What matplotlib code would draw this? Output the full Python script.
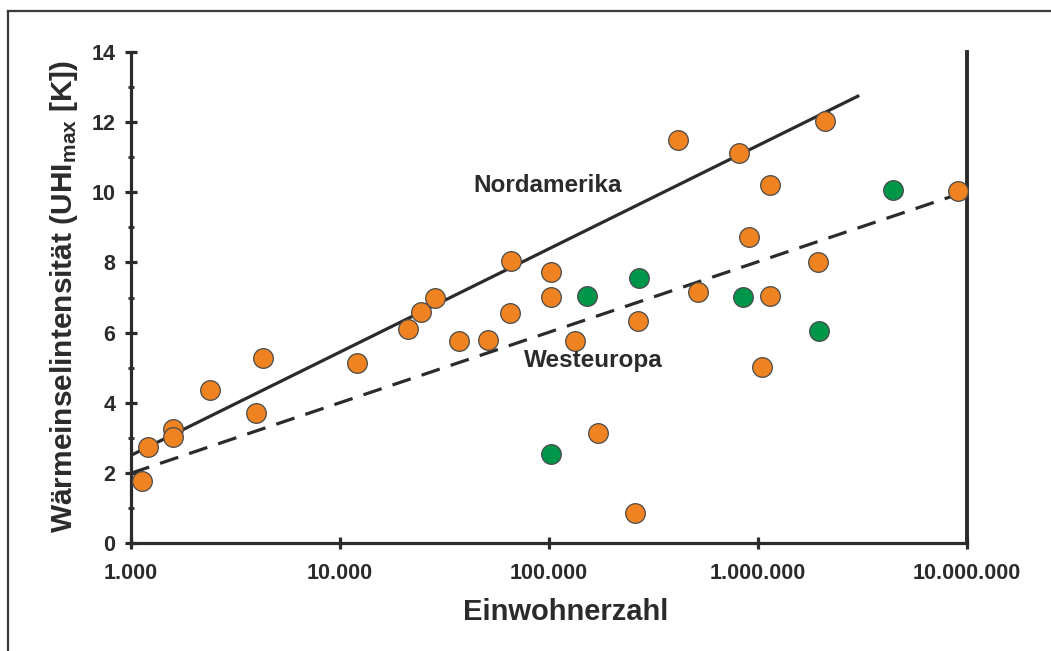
import matplotlib
matplotlib.use("Agg")
import matplotlib.pyplot as plt
from matplotlib.lines import Line2D
from matplotlib.ticker import FixedLocator, FixedFormatter, MultipleLocator, NullLocator

# data (population, UHI max in K)
orange_pop = [1130, 1210, 1590, 1590, 2390, 3960, 4280, 12060, 21150, 24400,
              28500, 37100, 51100, 65800, 65000, 102000, 102000, 133000, 171600,
              266600, 257800, 414000, 516000, 811000, 1141000, 906000, 1045000,
              1141000, 1936000, 2093000, 9060000]
orange_uhi = [1.77, 2.74, 3.25, 3.02, 4.36, 3.70, 5.27, 5.13, 6.10, 6.60,
              7.00, 5.76, 5.79, 8.04, 6.56, 7.73, 7.01, 5.76, 3.14,
              6.33, 0.86, 11.49, 7.16, 11.12, 10.21, 8.73, 5.02,
              7.04, 8.01, 12.03, 10.04]
green_pop = [102000, 152000, 269600, 848000, 1959000, 4425000]
green_uhi = [2.54, 7.04, 7.56, 7.01, 6.05, 10.07]

# regression lines
na_x = [1000, 3050000]
na_y = [2.50, 12.76]
eu_x = [1000, 10000000]
eu_y = [1.99, 10.03]

xticks = [1000, 10000, 100000, 1000000, 10000000]
xtick_labels = ["1.000", "10.000", "100.000", "1.000.000", "10.000.000"]

dark = "#2b2b2b"
plt.rcParams['font.family'] = ['Liberation Sans', 'DejaVu Sans']
plt.rcParams['font.weight'] = 'bold'
plt.rcParams['mathtext.default'] = 'regular'

fig = plt.figure(figsize=(10.51, 6.51), dpi=100)
ax = fig.add_axes([131/1051, 1-543/651, 836/1051, 491/651])

ax.plot(na_x, na_y, color=dark, lw=2.3, solid_capstyle='butt', zorder=2)
ax.plot(eu_x, eu_y, color=dark, lw=2.3, dashes=(6, 3.6), zorder=2)

ax.scatter(orange_pop, orange_uhi, s=200, c="#ef8322", edgecolors="#4a4a4a",
           linewidths=0.9, zorder=3, clip_on=False)
ax.scatter(green_pop, green_uhi, s=200, c="#00964a", edgecolors="#4a4a4a",
           linewidths=0.9, zorder=3, clip_on=False)

ax.set_xscale('log')
ax.set_xlim(1000, 10000000)
ax.set_ylim(0, 14)

ax.xaxis.set_major_locator(FixedLocator(xticks))
ax.xaxis.set_major_formatter(FixedFormatter(xtick_labels))
ax.xaxis.set_minor_locator(NullLocator())
ax.yaxis.set_major_locator(MultipleLocator(2))
ax.yaxis.set_minor_locator(MultipleLocator(1))

ax.spines['top'].set_visible(False)
for side in ['left', 'bottom', 'right']:
    ax.spines[side].set_color(dark)
    ax.spines[side].set_linewidth(2.3)
ax.spines['right'].set_linewidth(2.8)

ax.tick_params(axis='both', which='major', direction='inout', length=8.5,
               width=2.3, color=dark, labelcolor=dark, labelsize=15.5)
ax.tick_params(axis='y', which='minor', direction='inout', length=5,
               width=2.0, color=dark)
ax.tick_params(axis='x', which='major', pad=10.5)
ax.tick_params(axis='y', which='major', pad=7)
for lab in ax.get_xticklabels() + ax.get_yticklabels():
    lab.set_fontweight('bold')

ax.set_xlabel("Einwohnerzahl", fontsize=21, fontweight='bold', color=dark)
ax.xaxis.set_label_coords((566-131)/836, -0.112)
fig.text(64/1051, 1-296/651, "Wärmeinselintensität (UHI$_{max}$ [K])",
         rotation=90, ha='center', va='center', fontsize=21.5,
         fontweight='bold', color=dark)

ax.annotate("Nordamerika", xy=(548/1051, 1-186/651), xycoords='figure fraction',
            ha='center', va='center', fontsize=17.5, fontweight='bold', color=dark)
ax.annotate("Westeuropa", xy=(593/1051, 1-360/651), xycoords='figure fraction',
            ha='center', va='center', fontsize=17.5, fontweight='bold', color=dark)

# outer frame (top and left edges visible)
fig.add_artist(Line2D([8/1051, 8/1051], [0, 1-11/651], color="#3a3a3a", lw=1.6))
fig.add_artist(Line2D([8/1051, 1], [1-11/651, 1-11/651], color="#3a3a3a", lw=1.6))

fig.savefig("out.png", dpi=100, facecolor="white")
